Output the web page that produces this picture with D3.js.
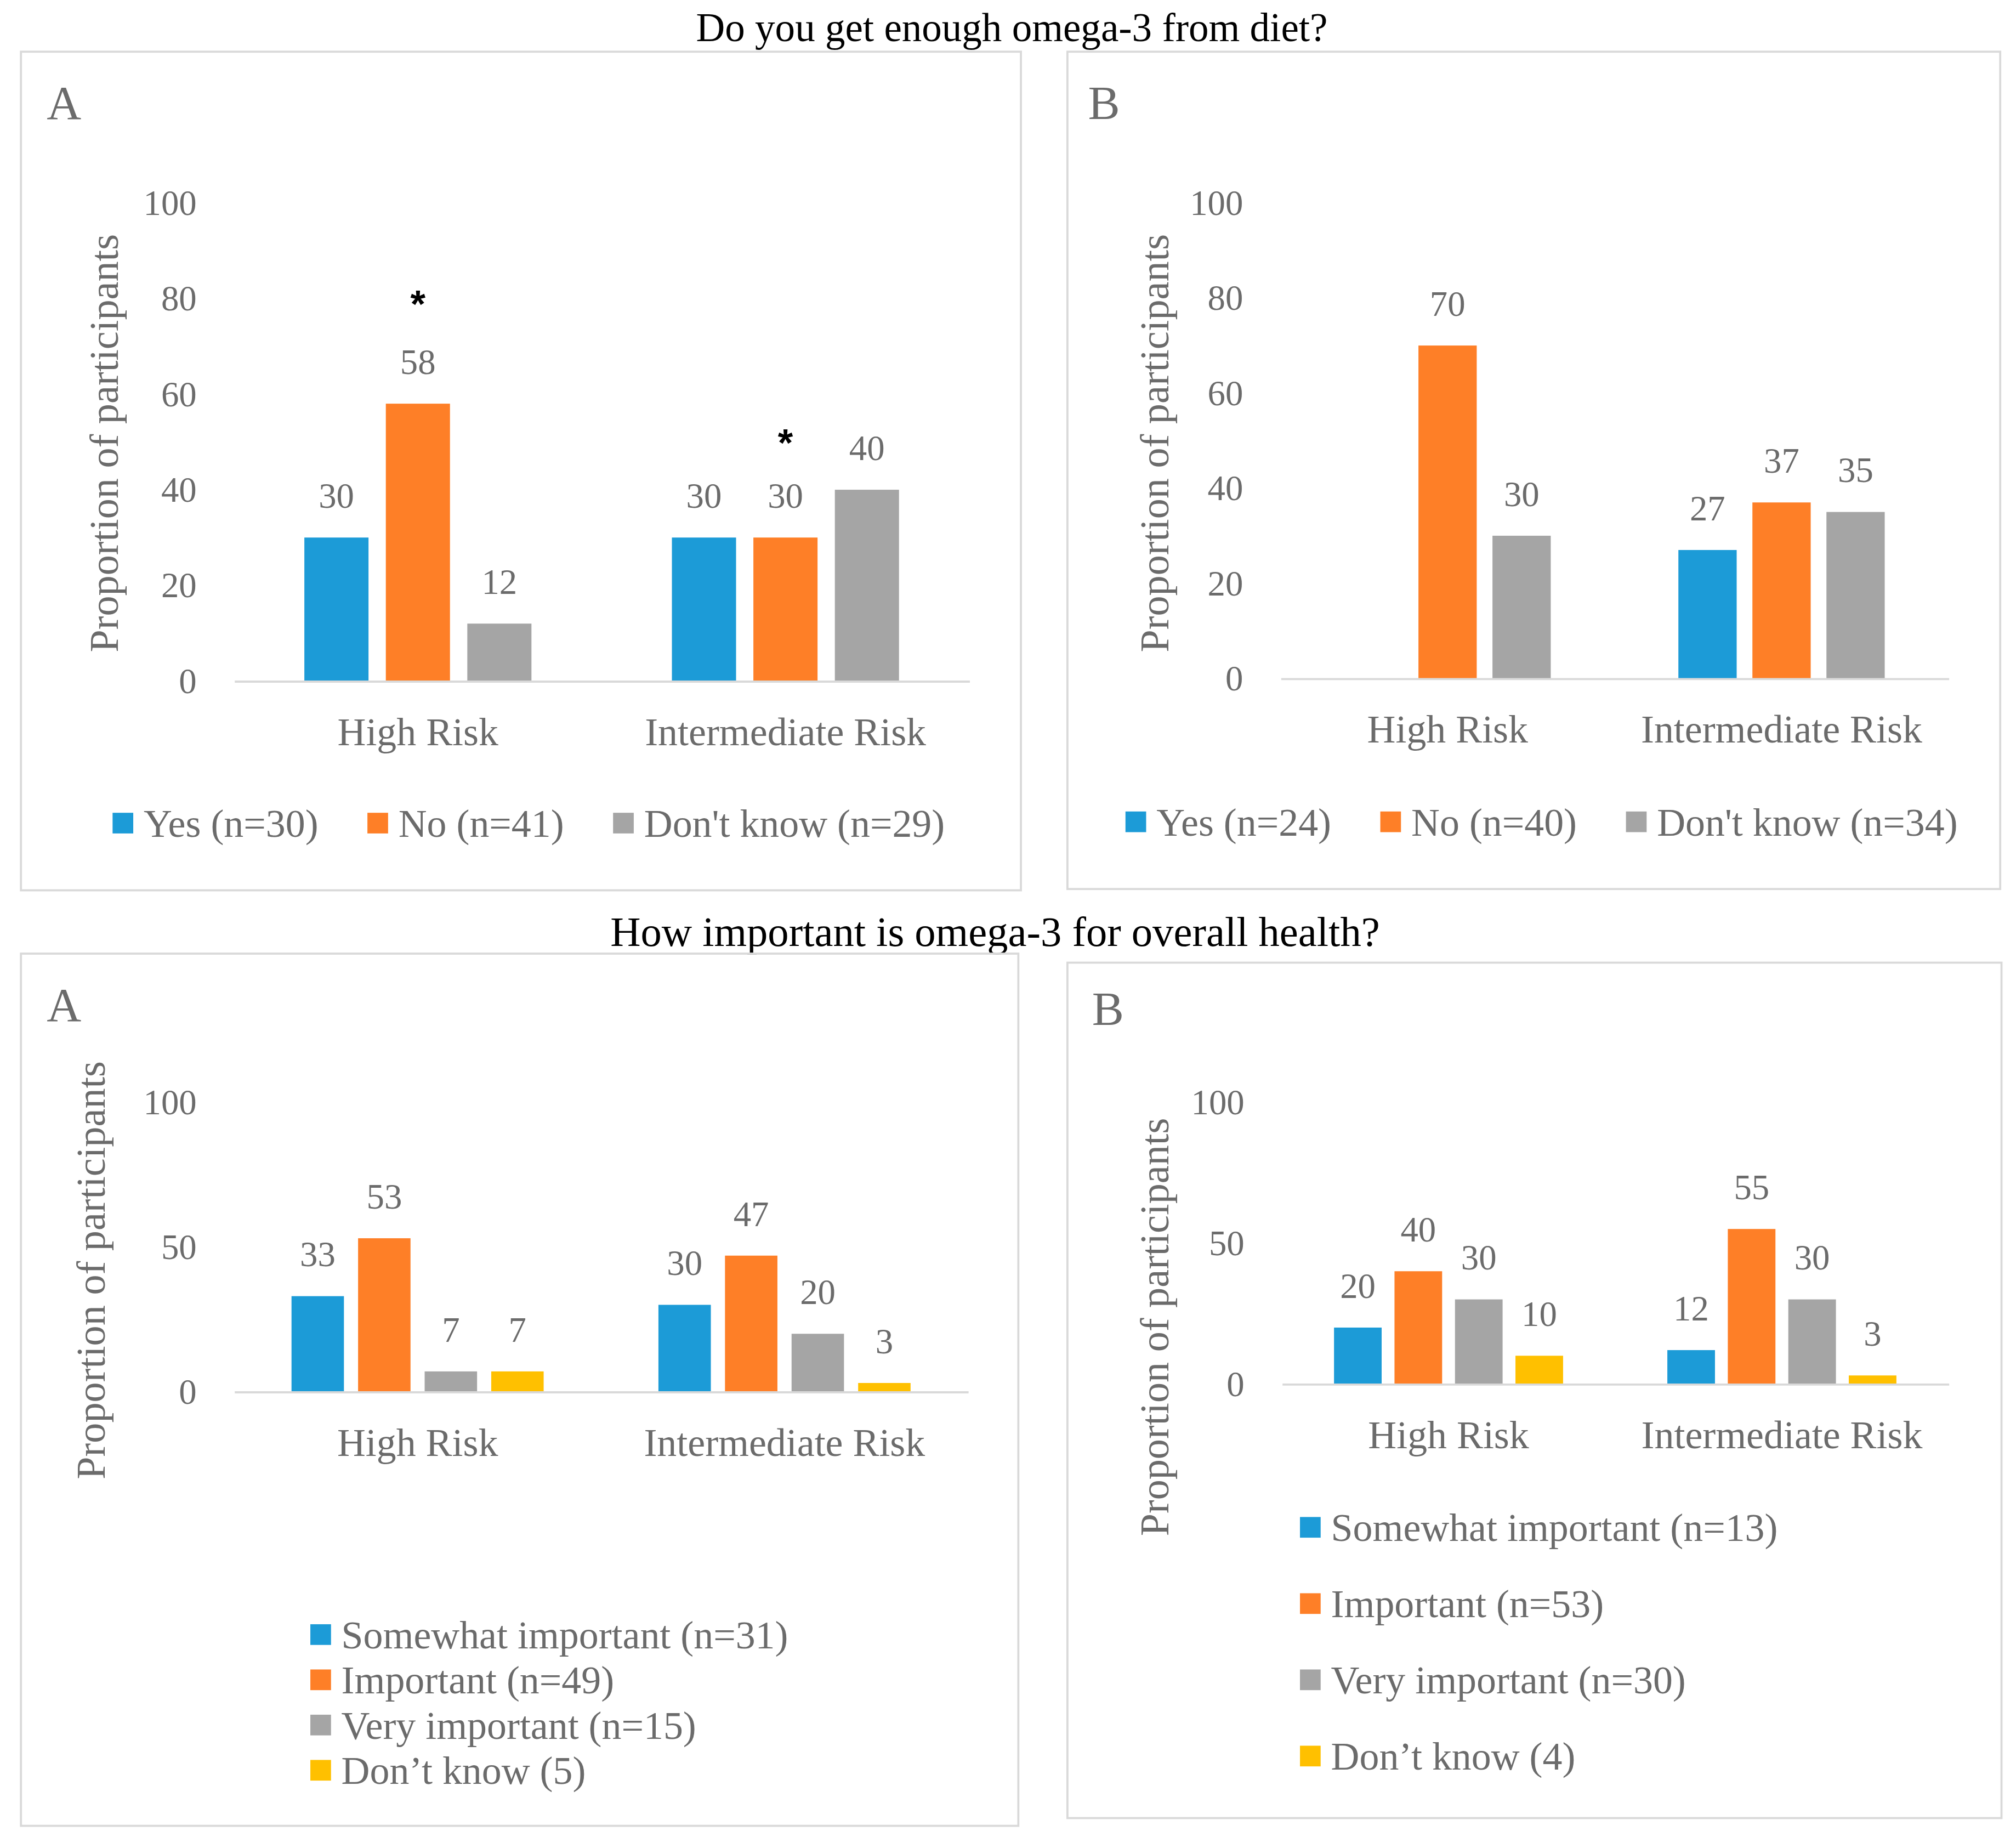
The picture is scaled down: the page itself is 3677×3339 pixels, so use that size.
<!DOCTYPE html>
<html>
<head>
<meta charset="utf-8">
<script src="https://cdn.jsdelivr.net/npm/d3@7"></script>
<style>
  html, body { margin: 0; padding: 0; background: #fff; }
  text { font-family: "Liberation Serif", "DejaVu Serif", serif; }
</style>
</head>
<body>
<div id="chart"></div>
<script>
// categories
const groups = ["High Risk", "Intermediate Risk"];

// "Do you get enough omega-3 from diet?"
const dietLegendA = ["Yes (n=30)", "No (n=41)", "Don't know (n=29)"];
const dietLegendB = ["Yes (n=24)", "No (n=40)", "Don't know (n=34)"];
const dietValuesA = [[30, 58, 12], [30, 30, 40]];
const dietValuesB = [[null, 70, 30], [27, 37, 35]];
const dietTicks = [0, 20, 40, 60, 80, 100];
// significance markers: group, series index, level on the y scale
const dietStarsA = [
  { group: "High Risk", series: 1, level: 81 },
  { group: "Intermediate Risk", series: 1, level: 52 }
];

// "How important is omega-3 for overall health?"
const importLegendA = ["Somewhat important (n=31)", "Important (n=49)", "Very important (n=15)", "Don\u2019t know (5)"];
const importLegendB = ["Somewhat important (n=13)", "Important (n=53)", "Very important (n=30)", "Don\u2019t know (4)"];
const importValuesA = [[33, 53, 7, 7], [30, 47, 20, 3]];
const importValuesB = [[20, 40, 30, 10], [12, 55, 30, 3]];
const importTicks = [0, 50, 100];

const colors = ["#1c9bd7", "#fe7f27", "#a5a5a5", "#ffc000"];
const textGray = "#6b6b6b";
const lineGray = "#d9d9d9";

// drawing in reference "display" units, scaled up to the full picture
var W = 3677, H = 3339, vw = 1560, vh = 1417;

var svg = d3.select("#chart")
    .append("svg")
    .attr("width", W)
    .attr("height", H)
    .attr("viewBox", "0 0 " + vw + " " + vh);

svg.append("rect").attr("width", vw).attr("height", vh).attr("fill", "#fff");

svg.append("text")
    .attr("x", 783).attr("y", 32)
    .attr("text-anchor", "middle")
    .style("font-size", "31px")
    .attr("fill", "#000")
    .text("Do you get enough omega-3 from diet?");

svg.append("text")
    .attr("x", 770).attr("y", 732)
    .attr("text-anchor", "middle")
    .style("font-size", "32.5px")
    .attr("fill", "#000")
    .text("How important is omega-3 for overall health?");

function drawPanel(p) {
    var g = svg.append("g");

    g.append("rect")
        .attr("x", p.box[0]).attr("y", p.box[1])
        .attr("width", p.box[2]).attr("height", p.box[3])
        .attr("fill", "none")
        .attr("stroke", lineGray)
        .attr("stroke-width", 1.6);

    g.append("text")
        .attr("x", p.letterPos[0]).attr("y", p.letterPos[1])
        .style("font-size", "37px")
        .attr("fill", textGray)
        .text(p.letter);

    var n = p.legend.length;

    var y = d3.scaleLinear()
        .domain([0, 100])
        .range([p.y0, p.y100]);

    var x0 = d3.scaleBand()
        .domain(groups)
        .range([p.xRange[0], p.xRange[1]])
        .padding(0);

    // gap width ~219%, overlap ~-27%
    var x1 = d3.scaleBand()
        .domain(d3.range(n))
        .range([0, x0.bandwidth()])
        .paddingInner(0.2126)
        .paddingOuter(0.862);

    // y tick labels (no axis line, like the original)
    g.append("g")
        .attr("transform", "translate(" + p.xRange[0] + ",0)")
        .call(d3.axisLeft(y).tickValues(p.ticks).tickSize(0).tickPadding(29))
        .call(ax => ax.select(".domain").remove())
        .selectAll("text")
        .style("font-size", "27.5px")
        .style("font-family", "Liberation Serif")
        .attr("fill", textGray);

    // bars
    var rows = [];
    groups.forEach(function (grp, gi) {
        p.values[gi].forEach(function (v, si) {
            rows.push({ group: grp, series: si, value: v });
        });
    });

    g.selectAll("rect.bar")
        .data(rows.filter(d => d.value != null))
        .enter().append("rect")
        .attr("class", "bar")
        .attr("x", d => x0(d.group) + x1(d.series))
        .attr("y", d => y(d.value))
        .attr("width", x1.bandwidth())
        .attr("height", d => y(0) - y(d.value))
        .attr("fill", d => colors[d.series]);

    // data labels
    g.selectAll("text.lbl")
        .data(rows.filter(d => d.value != null))
        .enter().append("text")
        .attr("class", "lbl")
        .attr("x", d => x0(d.group) + x1(d.series) + x1.bandwidth() / 2)
        .attr("y", d => y(d.value) - 23)
        .attr("text-anchor", "middle")
        .style("font-size", "27.5px")
        .attr("fill", textGray)
        .text(d => d.value);

    // x axis line + category labels
    g.append("g")
        .attr("transform", "translate(0," + y(0) + ")")
        .call(d3.axisBottom(x0).tickSize(0).tickPadding(28))
        .call(ax => ax.select(".domain")
            .attr("stroke", lineGray)
            .attr("stroke-width", 1.6))
        .selectAll("text")
        .style("font-size", "30.5px")
        .style("font-family", "Liberation Serif")
        .attr("fill", textGray);

    // y axis title
    g.append("text")
        .attr("transform", "translate(" + p.yTitle[0] + "," + p.yTitle[1] + ") rotate(-90)")
        .attr("text-anchor", "middle")
        .attr("dy", "0.35em")
        .style("font-size", "31.5px")
        .attr("fill", textGray)
        .text("Proportion of participants");

    // significance stars
    if (p.stars) {
        g.selectAll("text.star")
            .data(p.stars)
            .enter().append("text")
            .attr("class", "star")
            .attr("x", d => x0(d.group) + x1(d.series) + x1.bandwidth() / 2)
            .attr("y", d => y(d.level))
            .attr("dy", "0.62em")
            .attr("text-anchor", "middle")
            .style("font-family", "Liberation Sans")
            .style("font-weight", "bold")
            .style("font-size", "30px")
            .attr("fill", "#000")
            .text("*");
    }

    // legend
    var leg = g.append("g");
    var items = leg.selectAll("g.item")
        .data(p.legend)
        .enter().append("g")
        .attr("class", "item");
    items.append("rect")
        .attr("width", 16).attr("height", 16)
        .attr("y", -8)
        .attr("fill", (d, i) => colors[i]);
    items.append("text")
        .attr("x", 24)
        .attr("dy", "0.35em")
        .style("font-size", "30.5px")
        .attr("fill", textGray)
        .text(d => d);

    if (p.legendMode === "row") {
        var widths = [];
        items.select("text").each(function () { widths.push(24 + this.getComputedTextLength()); });
        var gap = 38;
        var total = d3.sum(widths) + gap * (widths.length - 1);
        var cx = p.box[0] + p.box[2] / 2 + 6;
        var start = cx - total / 2;
        var acc = start;
        items.attr("transform", function (d, i) {
            var t = "translate(" + acc + "," + p.legendY + ")";
            acc += widths[i] + gap;
            return t;
        });
    } else {
        items.attr("transform", (d, i) => "translate(" + p.legendX + "," + (p.legendY + i * p.legendStep) + ")");
    }
}

drawPanel({
    box: [16, 40, 774, 649], letter: "A", letterPos: [36, 92],
    xRange: [181, 750], y0: 527, y100: 157, ticks: dietTicks,
    values: dietValuesA, legend: dietLegendA, stars: dietStarsA,
    yTitle: [80, 343], legendMode: "row", legendY: 637
});
drawPanel({
    box: [826, 40, 722, 648], letter: "B", letterPos: [842, 92],
    xRange: [991, 1508], y0: 525, y100: 157, ticks: dietTicks,
    values: dietValuesB, legend: dietLegendB,
    yTitle: [893, 343], legendMode: "row", legendY: 636
});
drawPanel({
    box: [16, 738, 772, 675], letter: "A", letterPos: [36, 790],
    xRange: [181, 749], y0: 1077, y100: 853, ticks: importTicks,
    values: importValuesA, legend: importLegendA,
    yTitle: [70, 983], legendMode: "col", legendX: 240, legendY: 1265, legendStep: 35
});
drawPanel({
    box: [826, 745, 723, 662], letter: "B", letterPos: [845, 793],
    xRange: [992, 1508], y0: 1071, y100: 853, ticks: importTicks,
    values: importValuesB, legend: importLegendB,
    yTitle: [893, 1027], legendMode: "col", legendX: 1006, legendY: 1182, legendStep: 59
});
</script>
</body>
</html>
